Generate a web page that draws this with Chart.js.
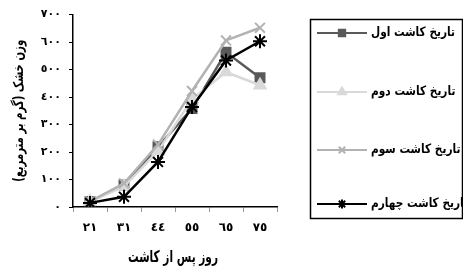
<!DOCTYPE html>
<html>
<head>
<meta charset="utf-8">
<script src="https://cdn.jsdelivr.net/npm/chart.js@4.4.1/dist/chart.umd.min.js"></script>
<style>
  html, body { margin: 0; padding: 0; background: #fff; }
  #wrap { width: 463px; height: 272px; }
</style>
</head>
<body>
<div id="wrap"><canvas id="myChart" width="463" height="272"></canvas></div>
<script>
// days after planting
var categories = ['٢١', '٣١', '٤٤', '٥٥', '٦٥', '٧٥'];
var seriesNames = ['تاریخ کاشت اول', 'تاریخ کاشت دوم', 'تاریخ کاشت سوم', 'تاریخ کاشت چهارم'];
// dry weight (g/m2)
var sowing1 = [20, 80, 219, 358, 563, 470];
var sowing2 = [20, 75, 203, 392, 491, 443];
var sowing3 = [20, 86, 227, 422, 606, 652];
var sowing4 = [15, 37, 164, 364, 533, 603];
var yMin = 0, yMax = 700, yStep = 100;
var xTitle = 'روز پس از کاشت';
var yTitle = 'وزن خشک (گرم بر مترمربع)';

var FONT = '"DejaVu Sans", sans-serif';

function toArabicDigits(n) {
  var d = '٠١٢٣٤٥٦٧٨٩';
  return n.toString().replace(/[0-9]/g, function (c) { return d[+c]; });
}

// draw text squeezed to a width (DejaVu is much wider than the original font)
function squeezeText(ctx, text, x, y, target) {
  var w = ctx.measureText(text).width;
  var sx = w > target ? target / w : 1;
  ctx.save();
  ctx.translate(x, y);
  ctx.scale(sx, 1);
  ctx.fillText(text, 0, 0);
  ctx.restore();
}

var titlesAndLegend = {
  id: 'titlesAndLegend',
  afterDraw: function (chart) {
    var ctx = chart.ctx;
    var area = chart.chartArea;
    ctx.save();
    ctx.fillStyle = '#000';
    ctx.direction = 'rtl';
    ctx.textBaseline = 'middle';

    // axis titles
    ctx.font = 'bold 16px ' + FONT;
    ctx.textAlign = 'center';
    squeezeText(ctx, xTitle, (area.left + area.right) / 2 - 2, 258, 90);

    ctx.save();
    ctx.translate(19, (area.top + area.bottom) / 2);
    ctx.rotate(-Math.PI / 2);
    ctx.font = 'bold 14px ' + FONT;
    squeezeText(ctx, yTitle, 0, 0, 142);
    ctx.restore();

    // legend box
    ctx.strokeStyle = '#000';
    ctx.lineWidth = 1.5;
    ctx.strokeRect(310.5, 19.5, 152, 199);
    var ys = [33, 92, 150, 204];
    ctx.font = 'bold 13px ' + FONT;
    var sx = 84 / ctx.measureText(seriesNames[0]).width;
    if (sx > 1) sx = 1;
    chart.data.datasets.forEach(function (ds, i) {
      var y = ys[i];
      ctx.strokeStyle = ds.borderColor;
      ctx.fillStyle = ds.backgroundColor;
      ctx.lineWidth = 2;
      ctx.beginPath();
      ctx.moveTo(317, y);
      ctx.lineTo(367, y);
      ctx.stroke();
      Chart.helpers.drawPoint(ctx, {
        pointStyle: ds.pointStyle,
        radius: 4.5,
        borderWidth: ds.pointBorderWidth || 1,
        rotation: 0
      }, 342, y);
      ctx.fillStyle = '#000';
      ctx.textAlign = 'left';
      ctx.direction = 'ltr';
      ctx.save();
      ctx.translate(371, y);
      ctx.scale(sx, 1);
      ctx.fillText(ds.label, 0, 0);
      ctx.restore();
    });
    ctx.restore();
  }
};

var ctx = document.getElementById('myChart');

var myChart = new Chart(ctx, {
  type: 'line',
  data: {
    labels: categories,
    datasets: [
      {
        label: seriesNames[0],
        data: sowing1,
        borderColor: '#5a5a5a',
        backgroundColor: '#5a5a5a',
        pointStyle: 'rect',
        pointRadius: 6,
        borderWidth: 2.5,
        order: 3
      },
      {
        label: seriesNames[1],
        data: sowing2,
        borderColor: '#d9d9d9',
        backgroundColor: '#d9d9d9',
        pointStyle: 'triangle',
        pointRadius: 6,
        borderWidth: 2.5,
        order: 2
      },
      {
        label: seriesNames[2],
        data: sowing3,
        borderColor: '#b2b2b2',
        backgroundColor: '#b2b2b2',
        pointStyle: 'crossRot',
        pointRadius: 7,
        pointBorderWidth: 2,
        borderWidth: 2.5,
        order: 1
      },
      {
        label: seriesNames[3],
        data: sowing4,
        borderColor: '#000',
        backgroundColor: '#000',
        pointStyle: 'star',
        pointRadius: 7,
        pointBorderWidth: 2,
        borderWidth: 2.5,
        order: 0
      }
    ]
  },
  options: {
    responsive: false,
    animation: false,
    lineTension: 0,
    layout: { padding: { top: 14, right: 186, left: 0, bottom: 0 } },
    plugins: {
      legend: { display: false },
      tooltip: { enabled: false }
    },
    scales: {
      x: {
        offset: true,
        grid: { offset: true, drawOnChartArea: false, drawTicks: true, tickLength: 5, color: '#999' },
        border: { color: '#000', width: 1.5 },
        ticks: { color: '#000', font: { family: FONT, size: 12, weight: 'bold' }, padding: 9, maxRotation: 0 },
        afterFit: function (scale) { scale.height = 65; }
      },
      y: {
        min: yMin,
        max: yMax,
        ticks: {
          stepSize: yStep,
          color: '#000',
          font: { family: FONT, size: 11, weight: 'bold' },
          padding: 8,
          callback: function (v) { return toArabicDigits(v); }
        },
        grid: { drawOnChartArea: false, drawTicks: true, tickLength: 4, color: '#000' },
        border: { color: '#000', width: 1.5 },
        afterFit: function (scale) { scale.width = 73; }
      }
    }
  },
  plugins: [titlesAndLegend]
});
</script>
</body>
</html>
